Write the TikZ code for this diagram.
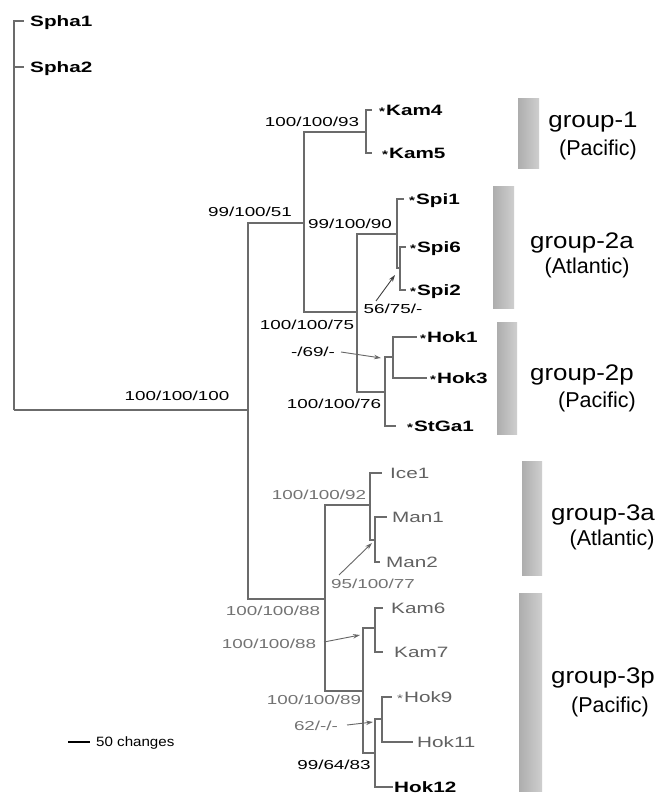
\documentclass[tikz,border=0pt]{standalone}
\usepackage{fontspec}
\setmainfont{Liberation Sans}
\newfontfamily\treefont[FakeStretch=1.45]{Liberation Sans}
\newfontfamily\leaffont[FakeStretch=1.38]{Liberation Sans}
\newfontfamily\groupfont[FakeStretch=1.15]{Liberation Sans}
\newfontfamily\scalefont[FakeStretch=1.12]{Liberation Sans}
\newcommand{\leafstar}{{\fontsize{11}{11}\selectfont *}\kern1pt}
\usetikzlibrary{arrows.meta}
\begin{document}
\begin{tikzpicture}[x=1pt,y=-1pt,
  branch/.style={draw=black!58, line width=1.4pt},
  leaf/.style={font=\leaffont\bfseries\fontsize{15}{15}\selectfont, anchor=west, inner sep=0pt, text height=10.7pt, text depth=0pt},
  leafg/.style={leaf, font=\leaffont\fontsize{15}{15}\selectfont, text=black!62},
  sup/.style={font=\treefont\fontsize{13}{13}\selectfont, inner sep=0pt, text height=9.3pt, text depth=0pt},
  supg/.style={sup, text=black!55},
  arr/.style={-{Stealth[length=7pt,width=4.5pt]}, line width=0.9pt, draw=black!75},
  bar/.style={left color=black!32, right color=black!19, draw=none},
  grp/.style={font=\groupfont\fontsize{22.5}{22.5}\selectfont, inner sep=0pt},
  reg/.style={font=\fontsize{21.5}{21.5}\selectfont, inner sep=0pt}]
\useasboundingbox (0,0) rectangle (658,794);
\fill[white] (0,0) rectangle (658,794);

% internal nodes
\coordinate (R) at (14,410);
\coordinate (A) at (248,410);
\coordinate (B) at (304,223);
\coordinate (K) at (366,132);
\coordinate (C) at (357,312);
\coordinate (S) at (397,234);
\coordinate (S6) at (400,268);
\coordinate (H) at (385,392);
\coordinate (Hk) at (393,357);
\coordinate (F) at (325,599);
\coordinate (I) at (370,505);
\coordinate (M) at (375,540);
\coordinate (G) at (363,691);
\coordinate (Kk) at (375,628);
\coordinate (J) at (375,753);
\coordinate (L) at (382,719);

% leaf tips
\coordinate (tSpha1) at (24,21);
\coordinate (tSpha2) at (24,67);
\coordinate (tKam4) at (372,110);
\coordinate (tKam5) at (372,153);
\coordinate (tSpi1) at (404,199);
\coordinate (tSpi6) at (406,247);
\coordinate (tSpi2) at (406,290);
\coordinate (tHok1) at (417,337);
\coordinate (tHok3) at (427,378);
\coordinate (tStGa1) at (396,426);
\coordinate (tIce1) at (382,473);
\coordinate (tMan1) at (387,517);
\coordinate (tMan2) at (380,562);
\coordinate (tKam6) at (383,608);
\coordinate (tKam7) at (383,652);
\coordinate (tHok9) at (392,697);
\coordinate (tHok11) at (413,742);
\coordinate (tHok12) at (393,787);

% branches
\draw[branch] (R) |- (tSpha1);
\draw[branch] (R) |- (tSpha2);
\draw[branch] (R) |- (A);
\draw[branch] (A) |- (B);
\draw[branch] (A) |- (F);
\draw[branch] (B) |- (K);
\draw[branch] (B) |- (C);
\draw[branch] (K) |- (tKam4);
\draw[branch] (K) |- (tKam5);
\draw[branch] (C) |- (S);
\draw[branch] (C) |- (H);
\draw[branch] (S) |- (tSpi1);
\draw[branch] (S) |- (S6);
\draw[branch] (S6) |- (tSpi6);
\draw[branch] (S6) |- (tSpi2);
\draw[branch] (H) |- (Hk);
\draw[branch] (H) |- (tStGa1);
\draw[branch] (Hk) |- (tHok1);
\draw[branch] (Hk) |- (tHok3);
\draw[branch] (F) |- (I);
\draw[branch] (F) |- (G);
\draw[branch] (I) |- (tIce1);
\draw[branch] (I) |- (M);
\draw[branch] (M) |- (tMan1);
\draw[branch] (M) |- (tMan2);
\draw[branch] (G) |- (Kk);
\draw[branch] (G) |- (J);
\draw[branch] (Kk) |- (tKam6);
\draw[branch] (Kk) |- (tKam7);
\draw[branch] (J) |- (L);
\draw[branch] (J) |- (tHok12);
\draw[branch] (L) |- (tHok9);
\draw[branch] (L) |- (tHok11);

% leaf labels
\node[leaf, xshift=6pt] (nSpha1) at (tSpha1) {Spha1};
\node[leaf, xshift=6pt] (nSpha2) at (tSpha2) {Spha2};
\node[leaf, xshift=7pt] (nKam4) at (tKam4) {\leafstar Kam4};
\node[leaf, xshift=10pt] (nKam5) at (tKam5) {\leafstar Kam5};
\node[leaf, xshift=5pt] (nSpi1) at (tSpi1) {\leafstar Spi1};
\node[leaf, xshift=4pt] (nSpi6) at (tSpi6) {\leafstar Spi6};
\node[leaf, xshift=4pt] (nSpi2) at (tSpi2) {\leafstar Spi2};
\node[leaf, xshift=3pt] (nHok1) at (tHok1) {\leafstar Hok1};
\node[leaf, xshift=3pt] (nHok3) at (tHok3) {\leafstar Hok3};
\node[leaf, xshift=11pt] (nStGa1) at (tStGa1) {\leafstar StGa1};
\node[leafg, xshift=8pt] (nIce1) at (tIce1) {Ice1};
\node[leafg, xshift=5pt] (nMan1) at (tMan1) {Man1};
\node[leafg, xshift=6pt] (nMan2) at (tMan2) {Man2};
\node[leafg, xshift=8pt] (nKam6) at (tKam6) {Kam6};
\node[leafg, xshift=11pt] (nKam7) at (tKam7) {Kam7};
\node[leafg, xshift=5pt] (nHok9) at (tHok9) {\leafstar Hok9};
\node[leafg, xshift=4pt] (nHok11) at (tHok11) {Hok11};
\node[leaf, xshift=1pt] (nHok12) at (tHok12) {Hok12};

% support values
\node[sup] (s100) at (177,396) {100/100/100};
\node[sup] (s9951) at (250,212) {99/100/51};
\node[sup] (s93) at (312,122) {100/100/93};
\node[sup] (s90) at (350,224) {99/100/90};
\node[sup] (s75) at (307,325) {100/100/75};
\node[sup] (s5675) at (393,309) {56/75/-};
\node[sup] (s69) at (313,352) {-/69/-};
\node[sup] (s76) at (334,404) {100/100/76};
\node[supg] (s92) at (319,495) {100/100/92};
\node[supg] (s77) at (373,584) {95/100/77};
\node[supg] (s88a) at (273,611) {100/100/88};
\node[supg] (s88b) at (269,644) {100/100/88};
\node[supg] (s89) at (314,700) {100/100/89};
\node[supg] (s62) at (316,726) {62/-/-};
\node[sup] (s83) at (334,765) {99/64/83};

% arrows
\coordinate (t5675) at (376,301); \coordinate (h5675) at (395,275);
\coordinate (t69) at (341,352);   \coordinate (h69) at (381,358);
\coordinate (t77) at (339,575);   \coordinate (h77) at (372,543);
\coordinate (t88) at (324,642);   \coordinate (h88) at (360,635);
\coordinate (t62) at (347,725);   \coordinate (h62) at (373,722);
\draw[arr] (t5675) -- (h5675);
\draw[arr, draw=black!60] (t69) -- (h69);
\draw[arr, draw=black!60] (t77) -- (h77);
\draw[arr, draw=black!60] (t88) -- (h88);
\draw[arr, draw=black!60] (t62) -- (h62);

% group bars
\shade[bar] (518,99) rectangle (539,169);
\shade[bar] (493,187) rectangle (514,308);
\shade[bar] (497,322) rectangle (517,434);
\shade[bar] (522,461) rectangle (542,575);
\shade[bar] (519,593) rectangle (542,791);

% group labels
\node[grp] (g1) at (593,122) {group-1};
\node[reg] (r1) at (598,150) {(Pacific)};
\node[grp] (g2a) at (582,243) {group-2a};
\node[reg] (r2a) at (587,268) {(Atlantic)};
\node[grp] (g2p) at (582,375) {group-2p};
\node[reg] (r2p) at (597,402) {(Pacific)};
\node[grp] (g3a) at (603,515) {group-3a};
\node[reg] (r3a) at (612,540) {(Atlantic)};
\node[grp] (g3p) at (603,678) {group-3p};
\node[reg] (r3p) at (610,707) {(Pacific)};

% scale bar
\coordinate (sb1) at (68,742);
\coordinate (sb2) at (90,742);
\draw[line width=1.3pt] (sb1) -- (sb2);
\node[anchor=west, inner sep=0pt, font=\scalefont\fontsize{13.5}{13.5}\selectfont, text height=9.6pt, text depth=0pt] (sbl) at (96,742) {50 changes};
\end{tikzpicture}
\end{document}
